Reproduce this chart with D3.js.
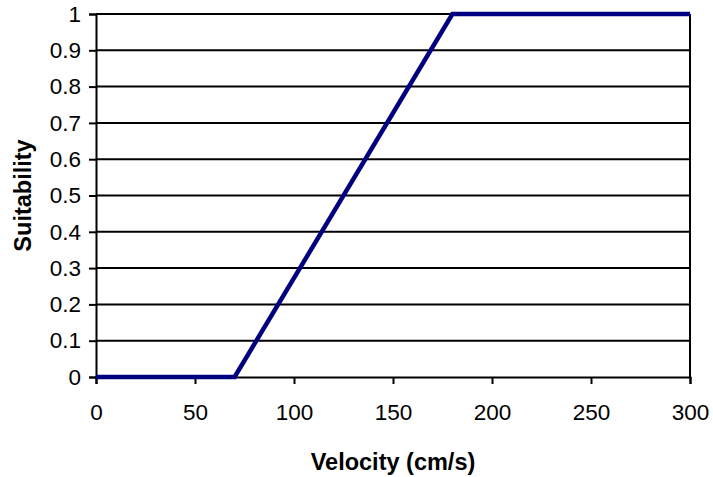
<!DOCTYPE html>
<html><head><meta charset="utf-8">
<script src="https://cdn.jsdelivr.net/npm/d3@7"></script>
<style>body{margin:0;background:#fff}svg{display:block}text{font-family:"Liberation Sans",Arial,sans-serif}</style>
</head><body>
<script>
const velocity = [0, 70, 180, 300];
const suitability = [0, 0, 1, 1];
const xTicks = [0, 50, 100, 150, 200, 250, 300];
const yTicks = [0, 0.1, 0.2, 0.3, 0.4, 0.5, 0.6, 0.7, 0.8, 0.9, 1];

const W = 713, H = 477;
const m = {left: 96, right: 23, top: 14, bottom: 100};
const svg = d3.select("body").append("svg").attr("width", W).attr("height", H);
const x = d3.scaleLinear().domain([0, 300]).range([m.left, W - m.right]);
const y = d3.scaleLinear().domain([0, 1]).range([H - m.bottom, m.top]);

// gridlines
svg.append("g").selectAll("line").data(yTicks.filter(d => d > 0)).join("line")
  .attr("x1", x(0)).attr("x2", x(300)).attr("y1", d => y(d)).attr("y2", d => y(d))
  .attr("stroke", "#000").attr("stroke-width", 2);
// right border
svg.append("line").attr("x1", x(300)).attr("x2", x(300)).attr("y1", y(1)).attr("y2", y(0))
  .attr("stroke", "#000").attr("stroke-width", 2);

const xAxis = svg.append("g").attr("transform", `translate(0,${y(0)})`)
  .call(d3.axisBottom(x).tickValues(xTicks).tickSize(7).tickPadding(20).tickFormat(d3.format("d")));
const yAxis = svg.append("g").attr("transform", `translate(${x(0)},0)`)
  .call(d3.axisLeft(y).tickValues(yTicks).tickSize(7).tickPadding(8).tickFormat(d => String(d)));
[xAxis, yAxis].forEach(g => {
  g.attr("font-size", null).attr("font-family", null);
  g.select(".domain").attr("stroke", "#000").attr("stroke-width", 2);
  g.selectAll(".tick line").attr("stroke", "#000").attr("stroke-width", 2);
  g.selectAll("text").attr("font-size", 22.5).attr("fill", "#000");
});

svg.append("path").datum(velocity.map((v, i) => [v, suitability[i]]))
  .attr("d", d3.line().x(d => x(d[0])).y(d => y(d[1])))
  .attr("fill", "none").attr("stroke", "#000080").attr("stroke-width", 4.5).attr("stroke-linejoin", "miter");

svg.append("text").attr("x", (x(0) + x(300)) / 2).attr("y", 470).attr("text-anchor", "middle")
  .attr("font-size", 23.5).attr("font-weight", "bold").text("Velocity (cm/s)");
svg.append("text").attr("transform", `translate(31,${(y(0) + y(1)) / 2}) rotate(-90)`)
  .attr("text-anchor", "middle").attr("font-size", 23.5).attr("font-weight", "bold").text("Suitability");
</script>
</body></html>
